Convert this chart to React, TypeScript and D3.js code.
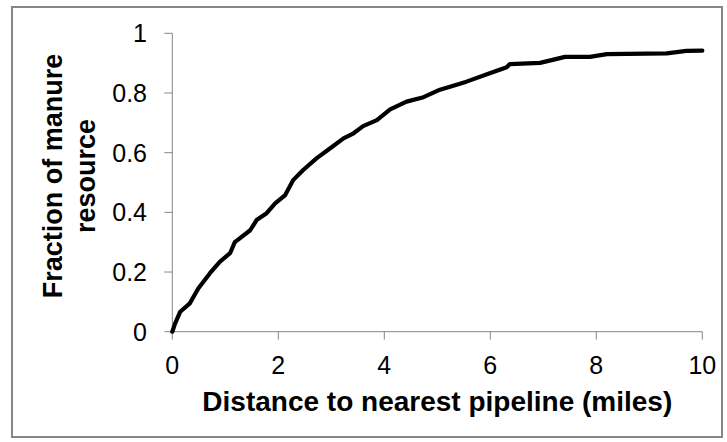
import React from "react";
import * as d3 from "d3";

// Cumulative fraction of manure resource vs. distance to nearest pipeline
const distances = [
  0, 0.05, 0.15, 0.33, 0.49, 0.71, 0.9, 1.09, 1.18, 1.47, 1.59, 1.78, 1.94,
  2.13, 2.28, 2.47, 2.72, 2.98, 3.23, 3.42, 3.6, 3.86, 4.11, 4.42, 4.74, 5.05,
  5.24, 5.55, 5.99, 6.31, 6.37, 6.94, 7.41, 7.88, 8.2, 9.33, 9.7, 10,
];
const fractions = [
  0, 0.026, 0.067, 0.095, 0.145, 0.196, 0.235, 0.263, 0.3, 0.34, 0.374, 0.397,
  0.43, 0.458, 0.508, 0.542, 0.581, 0.615, 0.648, 0.665, 0.689, 0.709, 0.745,
  0.771, 0.786, 0.811, 0.821, 0.838, 0.866, 0.886, 0.897, 0.901, 0.921, 0.921,
  0.93, 0.933, 0.941, 0.942,
];
const xTicks = [0, 2, 4, 6, 8, 10];
const yTicks = [0, 0.2, 0.4, 0.6, 0.8, 1];
const yTickLabels = ["0", "0.2", "0.4", "0.6", "0.8", "1"];
const xTitle = "Distance to nearest pipeline (miles)";
const yTitleLines = ["Fraction of manure", "resource"];

const W = 727;
const H = 442;
const plot = { left: 172.3, right: 702.3, top: 33.3, bottom: 331.7 };
const axisColor = "#868686";
const font = "Liberation Sans, Arial, sans-serif";

export default function App() {
  const x = d3.scaleLinear().domain([0, 10]).range([plot.left, plot.right]);
  const y = d3.scaleLinear().domain([0, 1]).range([plot.bottom, plot.top]);
  const points: [number, number][] = distances.map((d, i) => [d, fractions[i]]);
  const line = d3
    .line<[number, number]>()
    .x((p) => x(p[0]))
    .y((p) => y(p[1]))
    .curve(d3.curveLinear);

  return (
    <svg
      width={W}
      height={H}
      style={{ position: "fixed", left: 0, top: 0, background: "#fff" }}
    >
      <rect x={0} y={0} width={W} height={H} fill="#fff" />
      <rect
        x={12}
        y={7}
        width={710}
        height={430}
        fill="#fff"
        stroke={axisColor}
        strokeWidth={2}
      />
      {/* axes */}
      <line x1={plot.left} x2={plot.left} y1={plot.top} y2={plot.bottom} stroke={axisColor} strokeWidth={1} />
      <line x1={plot.left} x2={plot.right} y1={plot.bottom} y2={plot.bottom} stroke={axisColor} strokeWidth={1} />
      {yTicks.map((t, i) => (
        <g key={"y" + t}>
          <line x1={plot.left - 8} x2={plot.left} y1={y(t)} y2={y(t)} stroke={axisColor} strokeWidth={1} />
          <text
            x={147}
            y={y(t)}
            dy="0.36em"
            textAnchor="end"
            fontFamily={font}
            fontSize={25}
            fill="#000"
          >
            {yTickLabels[i]}
          </text>
        </g>
      ))}
      {xTicks.map((t) => (
        <g key={"x" + t}>
          <line x1={x(t)} x2={x(t)} y1={plot.bottom} y2={plot.bottom + 8} stroke={axisColor} strokeWidth={1} />
          <text
            x={x(t)}
            y={374}
            textAnchor="middle"
            fontFamily={font}
            fontSize={25}
            fill="#000"
          >
            {t}
          </text>
        </g>
      ))}
      <path
        d={line(points) || ""}
        fill="none"
        stroke="#000"
        strokeWidth={4.2}
        strokeLinejoin="round"
        strokeLinecap="round"
      />
      <text
        x={(plot.left + plot.right) / 2}
        y={411}
        textAnchor="middle"
        fontFamily={font}
        fontWeight="bold"
        fontSize={28}
        fill="#000"
      >
        {xTitle}
      </text>
      {yTitleLines.map((s, i) => (
        <text
          key={s}
          transform={`translate(${62 + i * 33}, 176) rotate(-90)`}
          textAnchor="middle"
          fontFamily={font}
          fontWeight="bold"
          fontSize={27}
          fill="#000"
        >
          {s}
        </text>
      ))}
    </svg>
  );
}
